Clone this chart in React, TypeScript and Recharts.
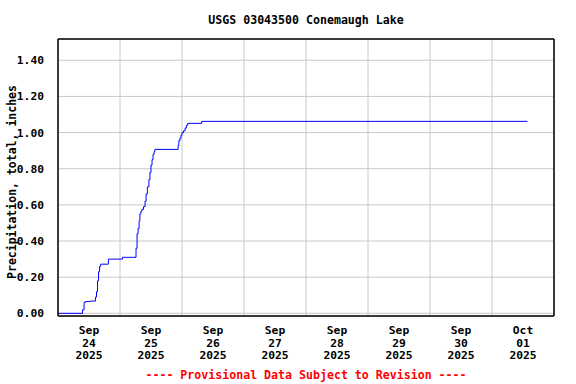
import React from "react";
import { LineChart, Line, XAxis, YAxis, CartesianGrid } from "recharts";

// hours since 2025-09-24 00:00 and cumulative precipitation (inches)
const hours = [
  0, 8.9, 9.5, 10.1, 10.5, 12.5, 14.5, 14.9, 15.3, 15.7, 16.1, 16.5, 19.5, 25.0,
  30.2, 30.6, 31.0, 31.4, 31.7, 32.1, 32.5, 33.1, 33.7, 34.1, 34.6, 35.2, 35.6,
  36.0, 36.4, 36.8, 37.2, 37.5, 46.5, 46.8, 47.2, 47.6, 48.0, 48.6, 49.2, 49.7,
  50.2, 55.6, 181.7,
];
const precip = [
  0, 0, 0.02, 0.06, 0.065, 0.068, 0.09, 0.12, 0.18, 0.23, 0.26, 0.272, 0.3, 0.31,
  0.36, 0.44, 0.47, 0.51, 0.55, 0.565, 0.575, 0.59, 0.62, 0.66, 0.7, 0.74, 0.78,
  0.82, 0.85, 0.88, 0.895, 0.907, 0.93, 0.955, 0.968, 0.985, 1.0, 1.01, 1.025,
  1.04, 1.051, 1.062, 1.062,
];

const xTickHours = [12, 36, 60, 84, 108, 132, 156, 180];
const xTickLabels = [
  ["Sep", "24", "2025"],
  ["Sep", "25", "2025"],
  ["Sep", "26", "2025"],
  ["Sep", "27", "2025"],
  ["Sep", "28", "2025"],
  ["Sep", "29", "2025"],
  ["Sep", "30", "2025"],
  ["Oct", "01", "2025"],
];
const dayBoundaries = [0, 24, 48, 72, 96, 120, 144, 168, 192];
const yTicks = [0, 0.2, 0.4, 0.6, 0.8, 1.0, 1.2, 1.4];

const title = "USGS 03043500 Conemaugh Lake";
const yLabel = "Precipitation, total, inches";
const footer = "---- Provisional Data Subject to Revision ----";

const data = hours.map((h, i) => ({ h, v: precip[i] }));

const FONT = "'DejaVu Sans Mono', monospace";
const Y_DOMAIN: [number, number] = [-0.0147, 1.5176];

const XTick = (props: any) => {
  const { x, y, payload } = props;
  const idx = xTickHours.indexOf(payload.value);
  const lines = idx >= 0 ? xTickLabels[idx] : [];
  return (
    <text
      x={x}
      y={y}
      textAnchor="middle"
      fontFamily={FONT}
      fontWeight="bold"
      fontSize={11.3}
      fill="#000"
    >
      {lines.map((l, i) => (
        <tspan key={i} x={x} dy={i === 0 ? 10 : 12.7}>
          {l}
        </tspan>
      ))}
    </text>
  );
};

export default function App() {
  return (
    <div
      style={{
        position: "absolute",
        left: 0,
        top: 0,
        width: 576,
        height: 384,
        background: "#fff",
      }}
    >
      <div
        style={{
          position: "absolute",
          left: 58,
          width: 496,
          top: 12,
          textAlign: "center",
          fontFamily: FONT,
          fontWeight: "bold",
          fontSize: 11.6,
          lineHeight: "16px",
          color: "#000",
        }}
      >
        {title}
      </div>
      <LineChart
        width={576}
        height={384}
        data={data}
        margin={{ top: 38, right: 21, bottom: 0, left: 0 }}
      >
        <CartesianGrid xAxisId="grid" stroke="#c8c8c8" strokeWidth={1} />
        <XAxis
          xAxisId="grid"
          dataKey="h"
          type="number"
          domain={[0, 192]}
          ticks={dayBoundaries}
          hide
        />
        <XAxis
          dataKey="h"
          type="number"
          domain={[0, 192]}
          ticks={xTickHours}
          tickLine={false}
          axisLine={{ stroke: "#000", strokeWidth: 1.5 }}
          height={68}
          tick={<XTick />}
          interval={0}
        />
        <XAxis
          xAxisId="top"
          orientation="top"
          dataKey="h"
          type="number"
          domain={[0, 192]}
          tick={false}
          tickLine={false}
          height={1}
          axisLine={{ stroke: "#000", strokeWidth: 1.5 }}
        />
        <YAxis
          type="number"
          domain={Y_DOMAIN}
          ticks={yTicks}
          width={58}
          tickLine={false}
          tickMargin={8}
          interval={0}
          axisLine={{ stroke: "#000", strokeWidth: 1.5 }}
          tickFormatter={(v: number) => v.toFixed(2)}
          tick={{
            fontFamily: FONT,
            fontWeight: "bold",
            fontSize: 11.3,
            fill: "#000",
          }}
        />
        <YAxis
          yAxisId="right"
          orientation="right"
          type="number"
          domain={Y_DOMAIN}
          width={1}
          tick={false}
          tickLine={false}
          axisLine={{ stroke: "#000", strokeWidth: 1.5 }}
        />
        <Line
          dataKey="v"
          type="stepAfter"
          stroke="#0000ff"
          strokeWidth={1}
          dot={false}
          isAnimationActive={false}
        />
      </LineChart>
      <div
        style={{
          position: "absolute",
          left: 12,
          top: 182,
          width: 0,
          height: 0,
        }}
      >
        <div
          style={{
            position: "absolute",
            left: 0,
            top: 0,
            transform: "translate(-50%, -50%) rotate(-90deg)",
            whiteSpace: "nowrap",
            fontFamily: FONT,
            fontWeight: "bold",
            fontSize: 11.5,
            color: "#000",
          }}
        >
          {yLabel}
        </div>
      </div>
      <div
        style={{
          position: "absolute",
          left: 58,
          width: 496,
          top: 367,
          textAlign: "center",
          fontFamily: FONT,
          fontWeight: "bold",
          fontSize: 11.6,
          lineHeight: "16px",
          color: "#ff0000",
        }}
      >
        {footer}
      </div>
    </div>
  );
}
